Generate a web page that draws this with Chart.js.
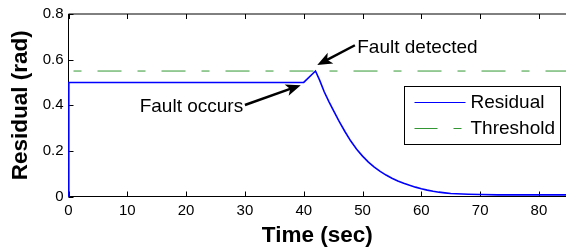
<!DOCTYPE html>
<html>
<head>
<meta charset="utf-8">
<script src="https://cdn.jsdelivr.net/npm/chart.js@4/dist/chart.umd.min.js"></script>
<style>
html,body{margin:0;padding:0;background:#fff;}
#wrap{width:566px;height:251px;position:relative;}
</style>
</head>
<body>
<div id="wrap"><canvas id="c" width="566" height="251"></canvas></div>
<script>
// ---- data ----
const time = [0, 0.05, 40, 42, 42.7, 43.5, 44.3, 45, 46, 47, 48, 49, 50, 51, 52, 53, 54, 55, 56, 57, 58, 59, 60, 61, 62, 63, 64, 65, 66, 68, 70, 73, 85];
const residual = [0, 0.5, 0.5, 0.55, 0.51, 0.458, 0.415, 0.38, 0.33, 0.285, 0.243, 0.207, 0.177, 0.151, 0.129, 0.11, 0.094, 0.08, 0.068, 0.058, 0.049, 0.041, 0.034, 0.028, 0.023, 0.019, 0.016, 0.013, 0.012, 0.010, 0.009, 0.007, 0.007];
const thresholdTime = [0, 85];
const threshold = [0.55, 0.55];
const xTicks = [0, 10, 20, 30, 40, 50, 60, 70, 80];
const yTicks = [0, 0.2, 0.4, 0.6, 0.8];
const seriesNames = ['Residual', 'Threshold'];
const notes = [
  {text: 'Fault detected', tip: [42.3, 0.576], tail: [48.7, 0.663], label: [49.1, 0.627], align: 'left'},
  {text: 'Fault occurs', tip: [39.5, 0.488], tail: [30.0, 0.401], label: [29.7, 0.37], align: 'right'}
];

const FONT = '"Liberation Sans", Arial, sans-serif';
const BLUE = 'rgb(0,0,255)';
const GREEN = 'rgb(50,150,50)';
const DASH = [24, 16, 8, 16];

const framePlugin = {
  id: 'frame',
  beforeDatasetsDraw(chart) {
    const {ctx, chartArea: a, scales: {x, y}} = chart;
    ctx.save();
    ctx.strokeStyle = '#000';
    ctx.lineWidth = 1;
    ctx.beginPath();
    ctx.moveTo(a.left, a.top); ctx.lineTo(a.right, a.top);
    ctx.moveTo(a.left, a.top); ctx.lineTo(a.left, a.bottom);
    ctx.moveTo(a.left, a.bottom); ctx.lineTo(a.right, a.bottom);
    xTicks.forEach(v => {
      const px = Math.round(x.getPixelForValue(v)) + 0.5;
      ctx.moveTo(px, a.bottom); ctx.lineTo(px, a.bottom - 5);
      ctx.moveTo(px, a.top); ctx.lineTo(px, a.top + 5);
    });
    yTicks.forEach(v => {
      const py = Math.round(y.getPixelForValue(v)) + 0.5;
      ctx.moveTo(a.left, py); ctx.lineTo(a.left + 5, py);
    });
    ctx.stroke();
    ctx.restore();
  },
  afterDatasetsDraw(chart) {
    const {ctx, chartArea: a, scales: {x, y}} = chart;
    ctx.save();
    ctx.font = '19px ' + FONT;
    ctx.fillStyle = '#000';
    ctx.textBaseline = 'alphabetic';
    notes.forEach(n => {
      const tx = x.getPixelForValue(n.tip[0]), ty = y.getPixelForValue(n.tip[1]);
      const sx = x.getPixelForValue(n.tail[0]), sy = y.getPixelForValue(n.tail[1]);
      const ang = Math.atan2(ty - sy, tx - sx);
      const L = 15, W = 6;
      const bx = tx - L * Math.cos(ang), by = ty - L * Math.sin(ang);
      ctx.strokeStyle = '#000';
      ctx.lineWidth = 2.5;
      ctx.beginPath();
      ctx.moveTo(sx, sy);
      ctx.lineTo(tx - 0.7 * L * Math.cos(ang), ty - 0.7 * L * Math.sin(ang));
      ctx.stroke();
      ctx.beginPath();
      ctx.moveTo(tx, ty);
      ctx.lineTo(bx + W * Math.sin(ang), by - W * Math.cos(ang));
      ctx.lineTo(tx - 0.75 * L * Math.cos(ang), ty - 0.75 * L * Math.sin(ang));
      ctx.lineTo(bx - W * Math.sin(ang), by + W * Math.cos(ang));
      ctx.closePath();
      ctx.fill();
      ctx.textAlign = n.align;
      ctx.fillText(n.text, x.getPixelForValue(n.label[0]), y.getPixelForValue(n.label[1]));
    });
    // legend box
    const bw = 156, bh = 58;
    const bxl = Math.round(a.right - 6 - bw) + 0.5, byt = Math.round(a.top + 72) + 0.5;
    ctx.fillStyle = '#fff';
    ctx.fillRect(bxl, byt, bw, bh);
    ctx.strokeStyle = '#000';
    ctx.lineWidth = 1;
    ctx.strokeRect(bxl, byt, bw, bh);
    const rows = [byt + 15.5, byt + 41];
    const colors = [BLUE, GREEN];
    rows.forEach((ry, i) => {
      ctx.beginPath();
      ctx.strokeStyle = colors[i];
      ctx.lineWidth = 1;
      if (i === 1) ctx.setLineDash([23, 16, 8, 16]); else ctx.setLineDash([]);
      ctx.moveTo(bxl + 10, Math.round(ry) + 0.5);
      ctx.lineTo(bxl + 61, Math.round(ry) + 0.5);
      ctx.stroke();
      ctx.setLineDash([]);
      ctx.fillStyle = '#000';
      ctx.textAlign = 'left';
      ctx.textBaseline = 'middle';
      ctx.font = '19px ' + FONT;
      ctx.fillText(seriesNames[i], bxl + 66, ry + 1);
    });
    ctx.restore();
  }
};

new Chart(document.getElementById('c'), {
  type: 'line',
  data: {
    datasets: [
      {
        label: seriesNames[0],
        data: time.map((t, i) => ({x: t, y: residual[i]})),
        borderColor: BLUE, borderWidth: 1.6, pointRadius: 0, tension: 0, clip: false
      },
      {
        label: seriesNames[1],
        data: thresholdTime.map((t, i) => ({x: t, y: threshold[i]})),
        borderColor: GREEN, borderWidth: 1, borderDash: DASH, borderDashOffset: 35, pointRadius: 0, tension: 0
      }
    ]
  },
  options: {
    responsive: false,
    animation: false,
    events: [],
    layout: {padding: {top: 13, right: 0, left: 0, bottom: 0}},
    plugins: {legend: {display: false}, tooltip: {enabled: false}},
    scales: {
      x: {
        type: 'linear', min: 0, max: 84.6,
        grid: {display: false, drawTicks: false},
        border: {display: false},
        afterBuildTicks: s => { s.ticks = xTicks.map(v => ({value: v})); },
        afterFit: s => { s.height = 54.5; },
        ticks: {color: '#000', font: {family: FONT, size: 15}, padding: 5, maxRotation: 0, autoSkip: false},
        title: {display: true, text: 'Time (sec)', color: '#000', font: {family: FONT, size: 22.5, weight: 'bold'}, padding: {top: 0, bottom: 1.5}}
      },
      y: {
        type: 'linear', min: 0, max: 0.8,
        grid: {display: false, drawTicks: false},
        border: {display: false},
        afterBuildTicks: s => { s.ticks = yTicks.map(v => ({value: v})); },
        afterFit: s => { s.width = 68.5; },
        ticks: {color: '#000', font: {family: FONT, size: 15}, padding: 5, autoSkip: false},
        title: {display: true, text: 'Residual (rad)', color: '#000', font: {family: FONT, size: 22.5, weight: 'bold'}, padding: {top: 7.5, bottom: 0}}
      }
    }
  },
  plugins: [framePlugin]
});
</script>
</body>
</html>
